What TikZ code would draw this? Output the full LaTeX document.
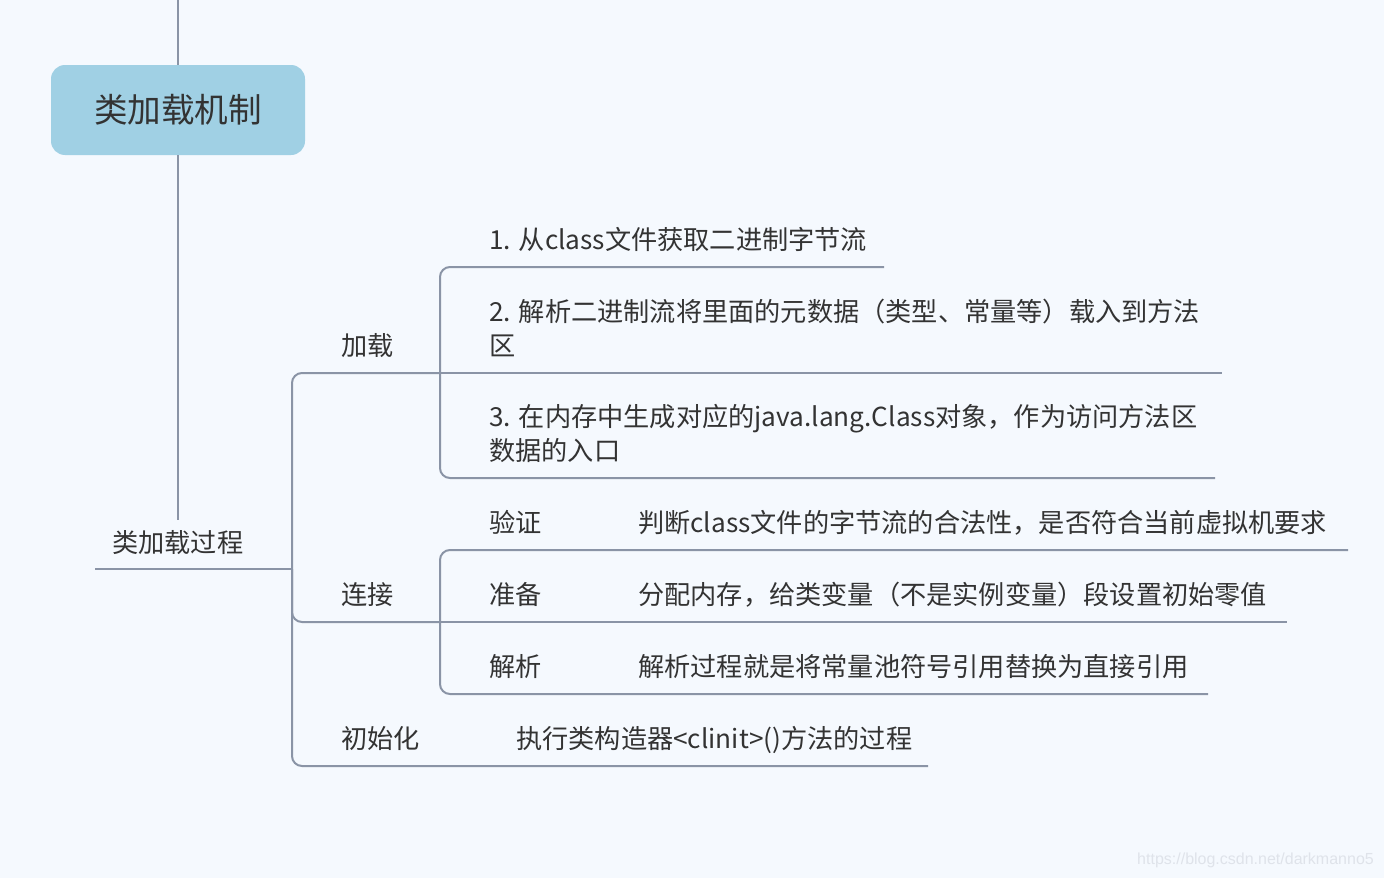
\documentclass[tikz,border=0pt]{standalone}
\usepackage{fontspec}
\setmainfont{Noto Sans CJK SC}
\newfontfamily\wmfont{Liberation Sans}
\definecolor{bgc}{HTML}{F5F9FE}
\definecolor{lnc}{HTML}{8A94A6}
\definecolor{txc}{HTML}{333333}
\definecolor{rootc}{HTML}{A0D0E4}
\definecolor{wmc}{HTML}{DFE3EA}
\tikzset{
  lbl/.style={anchor=base west, inner sep=0pt, text=txc, font=\fontsize{26.2}{34}\selectfont, align=left},
  conn/.style={draw=lnc, line width=2pt, rounded corners=10pt},
  rootbox/.style={fill=rootc, rounded corners=14pt, minimum width=254pt, minimum height=90pt, inner sep=0pt, text=txc, font=\fontsize{33.6}{40}\selectfont}
}
\begin{document}
\begin{tikzpicture}[x=1pt,y=-1pt]
\fill[bgc] (0,0) rectangle (1384,878);
\useasboundingbox (0,0) rectangle (1384,878);

% root
\node[rootbox] (root) at (178,110) {类加载机制};
\coordinate (top) at (178,0);
\coordinate (rootend) at (178,520);
\draw[conn] (top) -- (root.north);
\draw[conn] (root.south) -- (rootend);

% level 1
\node[lbl] (proc) at (112,552) {类加载过程};
\coordinate (procL) at (95,569);
\coordinate (J) at (292,569);
\draw[conn] (procL) -- (J);

\node[lbl] (load) at (341,355) {加载};
\node[lbl] (link) at (341,604) {连接};
\node[lbl] (init) at (341,748) {初始化};
\node[lbl] (initd) at (516,748) {执行类构造器<clinit>()方法的过程};

\coordinate (loadR) at (440,373);
\coordinate (linkR) at (440,622);
\coordinate (initR) at (928,766);
\draw[conn] (loadR) -- (J |- loadR) -- (J |- initR) -- (initR);
\draw[conn] (J) -- (J |- linkR) -- (linkR);

% 加载 children
\node[lbl] (l1) at (489,249) {1. 从class文件获取二进制字节流};
\node[lbl] (l2) at (489,355) {2. 解析二进制流将里面的元数据（类型、常量等）载入到方法\\区};
\node[lbl] (l3) at (489,460) {3. 在内存中生成对应的java.lang.Class对象，作为访问方法区\\数据的入口};
\coordinate (l1R) at (884,267);
\coordinate (l2R) at (1222,373);
\coordinate (l3R) at (1215,478);
\draw[conn] (l1R) -- (loadR |- l1R) -- (loadR |- l3R) -- (l3R);
\draw[conn] (loadR) -- (l2R);

% 连接 children
\node[lbl] (c1) at (489,532) {验证};
\node[lbl] (c1d) at (638,532) {判断class文件的字节流的合法性，是否符合当前虚拟机要求};
\node[lbl] (c2) at (489,604) {准备};
\node[lbl] (c2d) at (638,604) {分配内存，给类变量（不是实例变量）段设置初始零值};
\node[lbl] (c3) at (489,676) {解析};
\node[lbl] (c3d) at (638,676) {解析过程就是将常量池符号引用替换为直接引用};
\coordinate (c1R) at (1348,550);
\coordinate (c2R) at (1287,622);
\coordinate (c3R) at (1208,694);
\draw[conn] (c1R) -- (linkR |- c1R) -- (linkR |- c3R) -- (c3R);
\draw[conn] (linkR) -- (c2R);

% watermark
\node[anchor=base east, inner sep=0pt, text=wmc, font=\wmfont\fontsize{16}{18}\selectfont] (wm) at (1374,864) {https://blog.csdn.net/darkmanno5};
\end{tikzpicture}
\end{document}
